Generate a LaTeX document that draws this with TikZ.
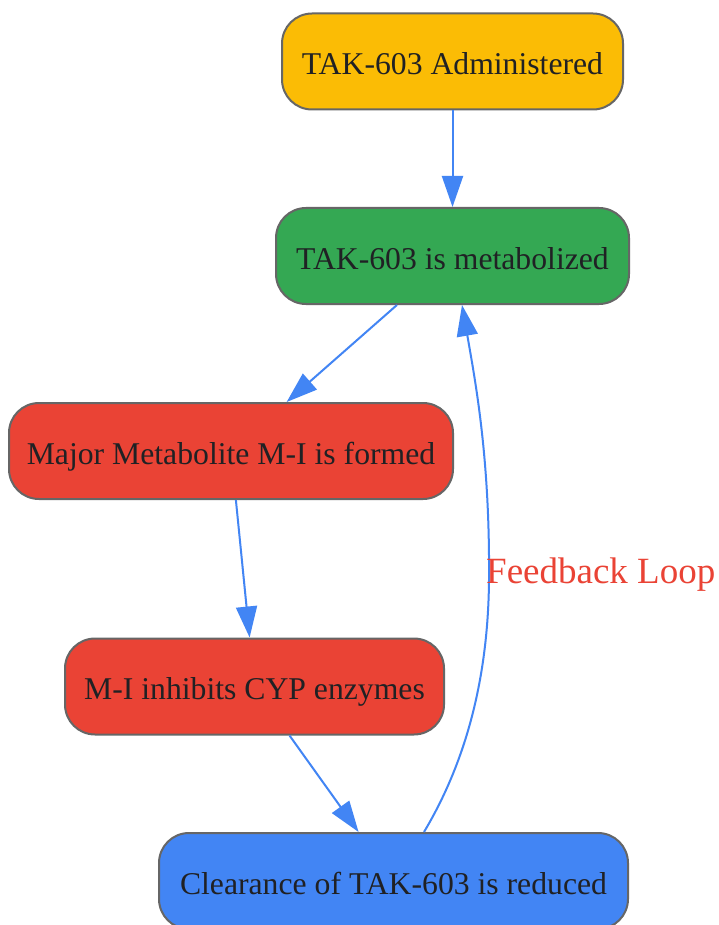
\documentclass[tikz,border=0pt]{standalone}
\usepackage{fontspec}
\setmainfont{Liberation Serif}
\usetikzlibrary{arrows.meta,calc}
\definecolor{cyellow}{HTML}{FBBC05}
\definecolor{cgreen}{HTML}{34A853}
\definecolor{cred}{HTML}{EA4335}
\definecolor{cblue}{HTML}{4285F4}
\definecolor{cborder}{HTML}{666666}
\definecolor{ctext}{HTML}{202124}
\tikzset{
  box/.style={draw=cborder, line width=2pt, rounded corners=30pt, minimum height=96pt, inner sep=0pt,
    text height=26pt, text depth=0pt,
    text=ctext, font=\fontsize{31.7}{36}\selectfont},
  conn/.style={draw=cblue, line width=2pt, -{Triangle[length=31pt,width=21pt]}},
  lbl/.style={text=cred, font=\fontsize{37}{42}\selectfont, inner sep=0pt}
}
\begin{document}
\begin{tikzpicture}[x=1pt,y=-1pt]
\useasboundingbox[fill=white] (0,0) rectangle (718,925);
\node[box, fill=cyellow, minimum width=341pt] (a) at (452.5,61.5) {TAK-603 Administered};
\node[box, fill=cgreen, minimum width=353pt] (b) at (452.5,256) {TAK-603 is metabolized};
\node[box, fill=cred, minimum width=444pt] (c) at (231,451) {Major Metabolite M-I is formed};
\node[box, fill=cred, minimum width=379pt] (d) at (254.5,686.5) {M-I inhibits CYP enzymes};
\node[box, fill=cblue, minimum width=469pt] (e) at (393.5,881) {Clearance of TAK-603 is reduced};
\draw[conn] (a) -- (b);
\draw[conn] (b) -- (c);
\draw[conn] (c) -- (d);
\draw[conn] (d) -- (e);
\coordinate (fs) at ($(e.north)+(30.5,0)$);
\coordinate (fe) at ($(b.south)+(9.5,0)$);
\draw[conn] (fs) .. controls (455,780) and (488,700) .. (489,580) .. controls (490,460) and (476,385) .. (fe);
\node[lbl, anchor=west] (fl) at (486,575) {Feedback Loop};
\end{tikzpicture}
\end{document}
